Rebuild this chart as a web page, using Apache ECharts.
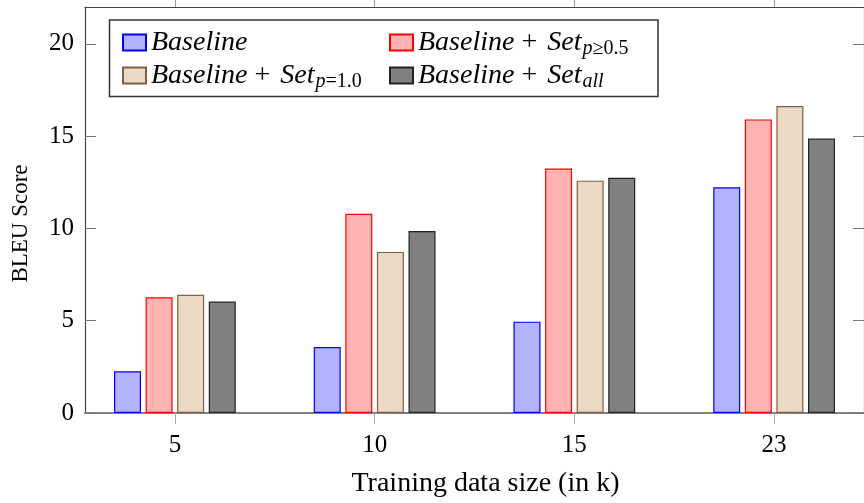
<!DOCTYPE html>
<html>
<head>
    <meta charset="utf-8">
    <title>BLEU Score by training data size</title>
    <script src="https://cdn.jsdelivr.net/npm/echarts@6/dist/echarts.min.js"></script>
    <style type="text/css">
        * {
            margin: 0;
            padding: 0;
        }

        body {
            background: #fff;
        }
    </style>
</head>
<body>
<div id="main" style="width: 864px;height: 503px;"></div>
<script type="text/javascript">
    var categories = ['5', '10', '15', '23'];
    var baseline = [2.26, 3.57, 4.95, 12.23];
    var setP05 = [6.27, 10.80, 13.25, 15.91];
    var setP10 = [6.41, 8.73, 12.59, 16.63];
    var setAll = [6.04, 9.86, 12.75, 14.87];
    var yTicks = [0, 5, 10, 15, 20];
    var xTicks = [0, 1, 2, 3];

    var names = ['Baseline', 'Baseline + Set p>=0.5', 'Baseline + Set p=1.0', 'Baseline + Set all'];
    // legend label, written as math like the latex original
    // (the empty sub token keeps every row the same height)
    var legendText = {
        'Baseline': '{i|Baseline}{s| }',
        'Baseline + Set p>=0.5': '{i|Baseline}{r|+}{i|Set}{si|p}{s|≥0.5}',
        'Baseline + Set p=1.0': '{i|Baseline}{r|+}{i|Set}{si|p}{s|=1.0}',
        'Baseline + Set all': '{i|Baseline}{r|+}{i|Set}{si|all}'
    };

    var font = 'Liberation Serif';
    var myChart = echarts.init(document.getElementById('main'));

    function pairs(arr) {
        var out = [];
        for (var i = 0; i < arr.length; i++) {
            out.push([i, arr[i]]);
        }
        return out;
    }

    function barSeries(name, data, fill, border) {
        return {
            name: name,
            type: 'bar',
            barWidth: 27,
            barGap: '17%',
            data: pairs(data),
            itemStyle: {
                color: fill,
                borderColor: border,
                borderWidth: 1.2
            }
        };
    }

    var richText = {
        i: {fontFamily: font, fontStyle: 'italic', fontSize: 28, lineHeight: 34, color: '#000'},
        r: {fontFamily: font, fontSize: 28, lineHeight: 34, padding: [0, 10, 0, 7], color: '#000'},
        si: {fontFamily: font, fontStyle: 'italic', fontSize: 20, lineHeight: 21, padding: [13, 0, 0, 1], color: '#000'},
        s: {fontFamily: font, fontSize: 20, lineHeight: 21, padding: [13, 0, 0, 0], color: '#000'}
    };

    function legendItem(left, data) {
        return {
            orient: 'vertical',
            left: left,
            top: 21,
            z: 10,
            icon: 'rect',
            itemWidth: 23,
            itemHeight: 16,
            itemGap: 0,
            selectedMode: false,
            data: data,
            formatter: function (n) {
                return legendText[n];
            },
            textStyle: {rich: richText}
        };
    }

    function yAxisItem(pos, showLabel) {
        return {
            type: 'value',
            min: 0,
            max: 22,
            position: pos,
            splitLine: {show: false},
            axisLine: {show: true, onZero: false, lineStyle: {color: '#444', width: 1.2}},
            axisTick: {
                show: true,
                inside: true,
                customValues: yTicks,
                length: 11,
                lineStyle: {color: '#777'}
            },
            axisLabel: {
                show: showLabel,
                customValues: yTicks,
                margin: 11,
                padding: [5, 0, 0, 0],
                fontFamily: font,
                fontSize: 25,
                color: '#000'
            }
        };
    }

    var yLeft = yAxisItem('left', true);
    yLeft.name = 'BLEU Score';
    yLeft.nameLocation = 'middle';
    yLeft.nameGap = 53;
    yLeft.nameTextStyle = {
        fontFamily: font,
        fontSize: 23,
        color: '#000',
        padding: [0, 27, 0, 0]
    };

    var option = {
        animation: false,
        grid: {
            left: 85,
            right: -9,
            top: 7,
            bottom: 86
        },
        graphic: [{
            type: 'rect',
            z: 1,
            shape: {x: 109.5, y: 20, width: 548.5, height: 76.5},
            style: {fill: '#fff', stroke: '#333', lineWidth: 1.5}
        }],
        legend: [
            legendItem(117, [names[0], names[2]]),
            legendItem(384, [names[1], names[3]])
        ],
        xAxis: [{
            type: 'value',
            min: -0.45,
            max: 3.45,
            position: 'bottom',
            splitLine: {show: false},
            axisLine: {onZero: false, lineStyle: {color: '#808080', width: 2}},
            axisTick: {
                customValues: xTicks,
                length: 11,
                lineStyle: {color: '#aaa'}
            },
            axisLabel: {
                customValues: xTicks,
                margin: 20,
                fontFamily: font,
                fontSize: 25,
                color: '#000',
                formatter: function (v) {
                    return categories[v];
                }
            },
            name: 'Training data size (in k)',
            nameLocation: 'middle',
            nameGap: 57,
            nameTextStyle: {
                fontFamily: font,
                fontSize: 28,
                color: '#000',
                padding: [0, 0, 0, 22]
            }
        }, {
            type: 'value',
            min: -0.45,
            max: 3.45,
            position: 'top',
            splitLine: {show: false},
            axisLine: {onZero: false, lineStyle: {color: '#444', width: 1.2}},
            axisTick: {
                customValues: xTicks,
                length: 8,
                lineStyle: {color: '#999'}
            },
            axisLabel: {show: false}
        }],
        yAxis: [yLeft, yAxisItem('right', false)],
        series: [
            barSeries(names[0], baseline, '#b3b3ff', '#0000ff'),
            barSeries(names[1], setP05, '#ffb3b3', '#ff0000'),
            barSeries(names[2], setP10, '#ebd9c6', '#80603f'),
            barSeries(names[3], setAll, '#808080', '#222222')
        ]
    };

    myChart.setOption(option);
</script>
</body>
</html>
